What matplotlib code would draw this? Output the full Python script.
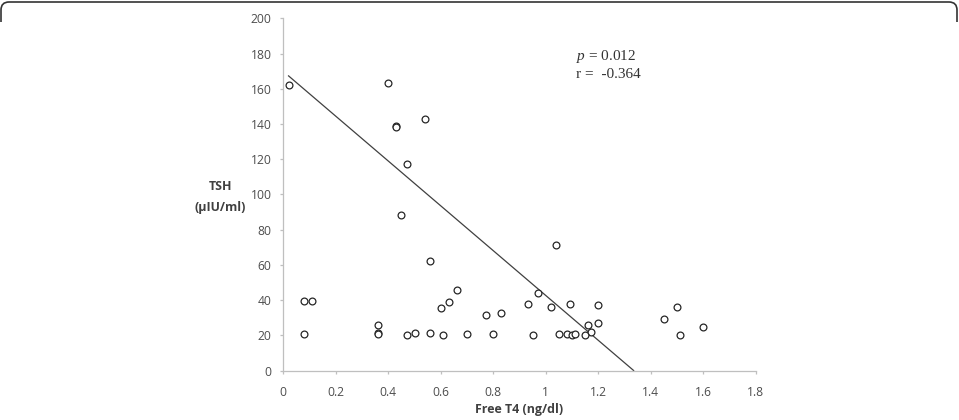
import matplotlib
matplotlib.use("Agg")
import matplotlib.pyplot as plt
from matplotlib.path import Path
from matplotlib.patches import PathPatch

# ---- data ----
free_t4 = [0.02, 0.40, 0.43, 0.43, 0.54, 0.47, 0.45, 0.56, 0.08, 0.11, 0.08,
           0.36, 0.36, 0.36, 0.47, 0.50, 0.56, 0.60, 0.63, 0.66, 0.61, 0.70,
           0.77, 0.80, 0.83, 1.04, 0.97, 0.93, 1.02, 1.09, 1.20, 1.16, 1.20,
           1.17, 0.95, 1.05, 1.08, 1.10, 1.11, 1.15, 1.45, 1.50, 1.51, 1.60]
tsh = [162, 163, 139, 138, 143, 117.5, 88.5, 62, 39.5, 39.5, 21,
       26, 21.5, 21, 20.3, 21.5, 21.5, 35.7, 39, 45.7, 20, 21,
       31.5, 21, 32.7, 71, 44.2, 38, 36.1, 37.6, 37, 25.9, 26.8,
       22, 20, 20.5, 20.5, 20, 21, 20, 29, 36, 20, 24.5]
fit_x = [0.02, 1.334]
fit_y = [167.3, 0.0]
x_ticks = [0, 0.2, 0.4, 0.6, 0.8, 1.0, 1.2, 1.4, 1.6, 1.8]
x_tick_labels = ["0", "0.2", "0.4", "0.6", "0.8", "1", "1.2", "1.4", "1.6", "1.8"]
y_ticks = [0, 20, 40, 60, 80, 100, 120, 140, 160, 180, 200]
x_label = "Free T4 (ng/dl)"
y_label_1 = "TSH"
y_label_2 = "(\u03bcIU/ml)"
stat_p = "0.012"
stat_r = "-0.364"

plt.rcParams['font.family'] = ['Open Sans', 'DejaVu Sans']
plt.rcParams['mathtext.fontset'] = 'custom'
plt.rcParams['mathtext.rm'] = 'Liberation Serif'
plt.rcParams['mathtext.it'] = 'Liberation Serif:italic'

W, H = 959, 420
fig = plt.figure(figsize=(W / 100, H / 100), dpi=100)
fig.patch.set_facecolor('white')

def fx(px):
    return px / W

def fy(py):
    return 1 - py / H

ax_left, ax_right, ax_top, ax_bottom = 283.3, 756.0, 18.3, 370.5
ax = fig.add_axes([fx(ax_left), fy(ax_bottom), fx(ax_right) - fx(ax_left),
                   fy(ax_top) - fy(ax_bottom)])
ax.set_xlim(0, 1.8)
ax.set_ylim(0, 200)

axis_col = '#BFBFBF'
text_col = '#4D4D4D'
for s in ['top', 'right']:
    ax.spines[s].set_visible(False)
for s in ['left', 'bottom']:
    ax.spines[s].set_color(axis_col)
    ax.spines[s].set_linewidth(0.9)

ax.set_xticks(x_ticks)
ax.set_xticklabels(x_tick_labels)
ax.set_yticks(y_ticks)
ax.tick_params(axis='both', direction='out', length=2.5, width=0.9,
               color=axis_col, labelcolor=text_col, labelsize=8.7)
ax.tick_params(axis='x', pad=8.5)
ax.tick_params(axis='y', pad=6.0)

ax.plot(fit_x, fit_y, color='#404040', lw=0.9, zorder=2)
ax.scatter(free_t4, tsh, s=24, facecolors='white', edgecolors='#262626',
           linewidths=0.9, zorder=3, clip_on=False)

fig.text(fx(519.5), fy(409), x_label, ha='center', va='center',
         fontsize=8.9, fontweight='bold', color='#404040')
fig.text(fx(220.5), fy(186), y_label_1, ha='center', va='center',
         fontsize=8.9, fontweight='bold', color='#404040')
fig.text(fx(220.5), fy(207), y_label_2, ha='center', va='center',
         fontsize=8.9, fontweight='bold', color='#404040')

fig.text(fx(576), fy(56.5), r"$\it{p}$ = " + stat_p, ha='left', va='center',
         fontsize=11.0, family='Liberation Serif', color='#333333')
fig.text(fx(576), fy(74.5), "r =  " + stat_r, ha='left', va='center',
         fontsize=11.0, family='Liberation Serif', color='#333333')

# frame (top edge with rounded corners, cropped reference border)
r = 8
xl, xr, yt, yb = 1.0, 957.0, 2.0, 22.0
verts = [(xl, yb), (xl, yt + r), (xl, yt), (xl + r, yt), (xr - r, yt),
         (xr, yt), (xr, yt + r), (xr, yb)]
codes = [Path.MOVETO, Path.LINETO, Path.CURVE3, Path.CURVE3, Path.LINETO,
         Path.CURVE3, Path.CURVE3, Path.LINETO]
verts_f = [(fx(a), fy(b)) for a, b in verts]
fig.patches.append(PathPatch(Path(verts_f, codes), transform=fig.transFigure,
                             fill=False, edgecolor='#333333', lw=1.2))

fig.savefig('out.png', dpi=100)
